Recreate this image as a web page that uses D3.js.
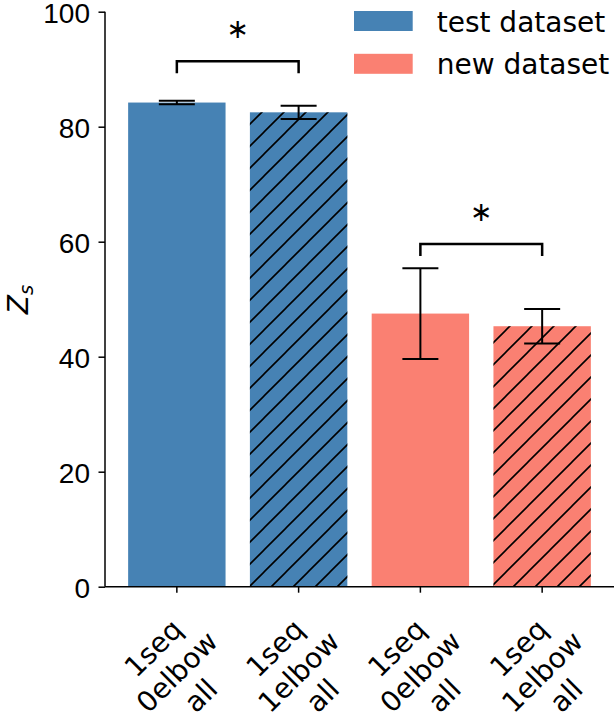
<!DOCTYPE html>
<html>
<head>
<meta charset="utf-8">
<script src="https://cdn.jsdelivr.net/npm/d3@7"></script>
<style>
  body { margin: 0; background: #fff; }
  svg { display: block; font-family: "DejaVu Sans", sans-serif; }
  .axis path, .axis line { stroke: #000; stroke-width: 1.5; }
  .axis text { font-size: 28px; fill: #000; }
</style>
</head>
<body>
<svg width="616" height="713"></svg>
<script>
var labelLines = [
    ["1seq", "0elbow", "all"],
    ["1seq", "1elbow", "all"],
    ["1seq", "0elbow", "all"],
    ["1seq", "1elbow", "all"]
];
var means = [84.2, 82.5, 47.5, 45.3];
var errors = [0.3, 1.15, 7.9, 3.0];
var groups = [0, 0, 1, 1];
var hatched = [false, true, false, true];
var legendLabels = ["test dataset", "new dataset"];
var colors = ["#4682b4", "#fa8072"];
var yTicks = [0, 20, 40, 60, 80, 100];
var sigPairs = [[0, 1], [2, 3]];
var sigLevels = [89.3, 57.5];

var svg = d3.select('svg');

var xScale = d3.scaleBand()
    .domain(d3.range(means.length))
    .range([105, 614])
    .paddingInner(0.2)
    .paddingOuter(0.19);

var yScale = d3.scaleLinear()
    .domain([0, 100])
    .range([586.7, 11.7]);

var cx = function(i) { return xScale(i) + xScale.bandwidth() / 2; };

// hatch pattern
var pat = svg.append('defs').append('pattern')
    .attr('id', 'hatch')
    .attr('patternUnits', 'userSpaceOnUse')
    .attr('width', 22)
    .attr('height', 22);
pat.append('path')
    .attr('d', 'M-2,2 L2,-2 M0,22 L22,0 M20,24 L24,20')
    .attr('stroke', '#000')
    .attr('stroke-width', 1.6);

var bars = svg.append('g');
bars.selectAll('rect.bar')
    .data(means)
    .enter()
    .append('rect')
    .attr('class', 'bar')
    .attr('x', function(d, i) { return xScale(i); })
    .attr('y', function(d) { return yScale(d); })
    .attr('width', xScale.bandwidth())
    .attr('height', function(d) { return yScale(0) - yScale(d); })
    .style('fill', function(d, i) { return colors[groups[i]]; });

bars.selectAll('rect.hatch')
    .data(d3.range(means.length).filter(function(i) { return hatched[i]; }))
    .enter()
    .append('rect')
    .attr('class', 'hatch')
    .attr('x', function(i) { return xScale(i); })
    .attr('y', function(i) { return yScale(means[i]); })
    .attr('width', xScale.bandwidth())
    .attr('height', function(i) { return yScale(0) - yScale(means[i]); })
    .style('fill', 'url(#hatch)');

// error bars
var eb = svg.append('g').attr('stroke', '#000').attr('stroke-width', 2);
means.forEach(function(m, i) {
    var x = cx(i), lo = yScale(m - errors[i]), hi = yScale(m + errors[i]);
    eb.append('line').attr('x1', x).attr('x2', x).attr('y1', lo).attr('y2', hi);
    eb.append('line').attr('x1', x - 18).attr('x2', x + 18).attr('y1', lo).attr('y2', lo);
    eb.append('line').attr('x1', x - 18).attr('x2', x + 18).attr('y1', hi).attr('y2', hi);
});

// significance brackets
sigPairs.forEach(function(p, k) {
    var x1 = cx(p[0]), x2 = cx(p[1]);
    var yb = yScale(sigLevels[k]), yt = yScale(sigLevels[k] + 2.1);
    svg.append('path')
        .attr('d', 'M' + x1 + ',' + yb + 'V' + yt + 'H' + x2 + 'V' + yb)
        .attr('fill', 'none')
        .attr('stroke', '#000')
        .attr('stroke-width', 2.5);
    svg.append('text')
        .attr('x', (x1 + x2) / 2)
        .attr('y', yScale(sigLevels[k] + 2.1 + 5.35))
        .attr('dy', '0.3em')
        .attr('text-anchor', 'middle')
        .style('font-size', '27px')
        .text('\u2217');
});

// axes
var yAxis = d3.axisLeft(yScale).tickValues(yTicks).tickSize(6.5).tickPadding(8.5);
svg.append('g')
    .attr('class', 'y axis')
    .attr('transform', 'translate(105,0)')
    .call(yAxis)
    .call(function(g) { g.selectAll('text').attr('dy', '0.4em'); })
    .call(function(g) { g.select('.domain').attr('d', 'M0,' + yScale(100) + 'V' + yScale(0)); });

var xAxis = d3.axisBottom(xScale).tickSize(6).tickFormat('');
svg.append('g')
    .attr('class', 'x axis')
    .attr('transform', 'translate(0,' + yScale(0) + ')')
    .call(xAxis)
    .call(function(g) { g.select('.domain').attr('d', 'M105,0H614'); });

// rotated tick labels, three centred lines each
var lab = svg.append('g').selectAll('g')
    .data(labelLines)
    .enter()
    .append('g')
    .attr('transform', function(d, i) { return 'translate(' + cx(i) + ',' + (yScale(0) + 85) + ') rotate(-45)'; });
lab.selectAll('text')
    .data(function(d) { return d; })
    .enter()
    .append('text')
    .attr('x', 0)
    .attr('y', function(d, j) { return (j - 1) * 33.6 + 10; })
    .attr('text-anchor', 'middle')
    .style('font-size', '28px')
    .text(function(d) { return d; });

// y label
var yl = svg.append('text')
    .attr('transform', 'translate(28.3,299.5) rotate(-90)')
    .attr('text-anchor', 'middle')
    .style('font-size', '28px')
    .style('font-style', 'italic');
yl.append('tspan').text('Z');
yl.append('tspan').attr('dy', 4.7).style('font-size', '19.6px').text('s');

// legend
var leg = svg.append('g').selectAll('g')
    .data(legendLabels)
    .enter()
    .append('g')
    .attr('transform', function(d, i) { return 'translate(354,' + (11 + i * 42.8) + ')'; });
leg.append('rect')
    .attr('width', 58.7)
    .attr('height', 20)
    .style('fill', function(d, i) { return colors[i]; });
leg.append('text')
    .attr('x', 82.7)
    .attr('y', 20.5)
    .style('font-size', '28px')
    .text(function(d) { return d; });
</script>
</body>
</html>
